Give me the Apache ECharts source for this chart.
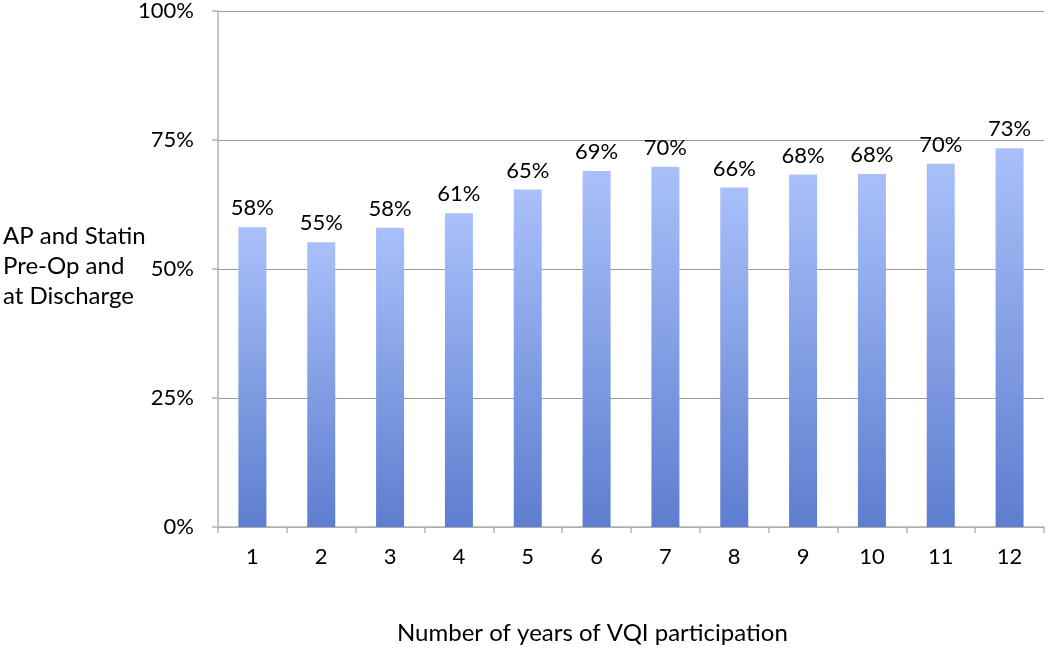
<!DOCTYPE html>
<html>
<head>
<meta charset="utf-8">
<script src="https://cdn.jsdelivr.net/npm/echarts@6/dist/echarts.min.js"></script>
<style>html,body{margin:0;padding:0;background:#fff}#c{width:1050px;height:651px}</style>
</head>
<body>
<div id="c"></div>
<script>
var categories = ['1','2','3','4','5','6','7','8','9','10','11','12'];
var values = [58.1, 55.2, 58.0, 60.8, 65.4, 69.0, 69.8, 65.8, 68.3, 68.4, 70.4, 73.4];
var yTicks = [0, 25, 50, 75, 100];
var yName = ['AP and Statin', 'Pre-Op and', 'at Discharge'];
var xName = 'Number of years of VQI participation';

var FONT = 'Lato';
var chart = echarts.init(document.getElementById('c'), null, {renderer: 'canvas'});
chart.setOption({
  animation: false,
  backgroundColor: '#ffffff',
  grid: {left: 218, right: 6, top: 10, bottom: 124, containLabel: false},
  xAxis: {
    type: 'category',
    data: categories,
    boundaryGap: true,
    axisLine: {lineStyle: {color: '#b4b4b4', width: 1.5}},
    axisTick: {show: true, length: 6, lineStyle: {color: '#b4b4b4', width: 1.5}},
    axisLabel: {color: '#000', fontFamily: FONT, fontSize: 22, margin: 19}
  },
  yAxis: {
    type: 'value',
    min: yTicks[0], max: yTicks[yTicks.length - 1], interval: 25,
    axisLine: {show: true, lineStyle: {color: '#b4b4b4', width: 1.5}},
    axisTick: {show: true, length: 6, lineStyle: {color: '#b4b4b4', width: 1.5}},
    splitLine: {show: true, lineStyle: {color: '#9a9a9a', width: 1}},
    axisLabel: {color: '#000', fontFamily: FONT, fontSize: 22, margin: 24,
      formatter: function (v) { return v + '%'; }}
  },
  series: [{
    type: 'bar',
    data: values,
    barWidth: 28,
    itemStyle: {
      color: new echarts.graphic.LinearGradient(0, 0, 0, 1, [
        {offset: 0, color: '#a9c0fa'},
        {offset: 1, color: '#5d7ecf'}
      ])
    },
    label: {
      show: true, position: 'top', distance: 8,
      color: '#000', fontFamily: FONT, fontSize: 22,
      formatter: function (p) { return Math.round(p.value) + '%'; }
    }
  }],
  graphic: [
    {type: 'text', left: 3, top: 221, style: {text: yName.join('\n'), font: '24px ' + FONT, fill: '#000', lineHeight: 30, textAlign: 'left'}},
    {type: 'text', left: 397, top: 621, style: {text: xName, font: '24px ' + FONT, fill: '#000'}}
  ]
});
</script>
</body>
</html>
